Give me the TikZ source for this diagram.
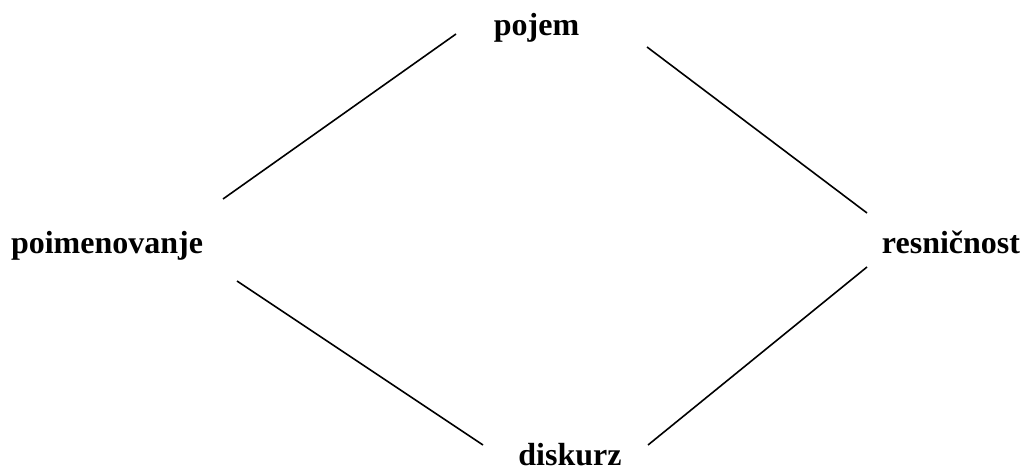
\documentclass[tikz,border=0pt]{standalone}
\usepackage{fontspec}
\setmainfont{Liberation Serif}
\begin{document}
\begin{tikzpicture}[x=0.5pt,y=-0.5pt,
  lbl/.style={font=\fontsize{16}{19}\selectfont\bfseries, inner sep=0pt, anchor=base},
  link/.style={line width=0.8pt, black}]
\useasboundingbox (0,0) rectangle (1021,470);
\node[lbl] (pojem) at (536.5,36) {pojem};
\node[lbl] (poim) at (107,253) {poimenovanje};
\node[lbl] (resn) at (951,253) {resničnost};
\node[lbl, text depth=0pt] (disk) at (570,465) {diskurz};
\coordinate (a1) at (456,34);
\coordinate (a2) at (223,199);
\coordinate (b1) at (647,47);
\coordinate (b2) at (867,213);
\coordinate (c1) at (237,281);
\coordinate (c2) at (483,445);
\coordinate (d1) at (867,267);
\coordinate (d2) at (648,445);
\draw[link] (a1) -- (a2);
\draw[link] (b1) -- (b2);
\draw[link] (c1) -- (c2);
\draw[link] (d1) -- (d2);
\end{tikzpicture}
\end{document}
